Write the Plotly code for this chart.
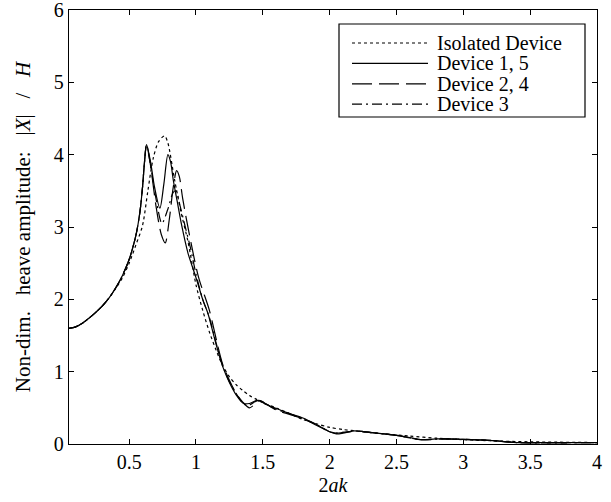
import plotly.graph_objects as go

# Shared low-frequency part (all array devices coincide)
x_rise = [0.05, 0.1, 0.15, 0.2, 0.25, 0.3, 0.35, 0.4, 0.45, 0.5, 0.55, 0.58, 0.6, 0.615]
y_rise = [1.60, 1.62, 1.67, 1.74, 1.82, 1.91, 2.02, 2.16, 2.33, 2.55, 2.88, 3.2, 3.55, 3.9]

# Isolated device
x_iso = [0.05, 0.1, 0.15, 0.2, 0.25, 0.3, 0.35, 0.4, 0.45, 0.5, 0.55, 0.6, 0.64, 0.68, 0.72,
         0.765, 0.79, 0.84, 0.89, 0.94, 0.97, 1.0, 1.05, 1.1, 1.15, 1.2, 1.25, 1.3, 1.35,
         1.4, 1.45, 1.5, 1.6, 1.7, 1.8, 1.9, 2.0, 2.1, 2.2, 2.4, 2.6, 2.8, 3.0, 3.2, 3.5, 4.0]
y_iso = [1.60, 1.62, 1.67, 1.74, 1.82, 1.91, 2.02, 2.15, 2.3, 2.5, 2.75, 3.02, 3.5, 3.95, 4.18,
         4.26, 4.16, 3.65, 3.19, 2.8, 2.5, 2.2, 1.85, 1.55, 1.3, 1.08, 0.93, 0.82, 0.74,
         0.67, 0.62, 0.57, 0.5, 0.42, 0.34, 0.28, 0.23, 0.2, 0.18, 0.14, 0.11, 0.08, 0.06, 0.045, 0.03, 0.02]

# Device 1, 5
x_d15 = x_rise + [0.63, 0.66, 0.69, 0.73, 0.76, 0.79, 0.81, 0.83, 0.86, 0.89, 0.94, 1.0, 1.05,
                  1.09, 1.15, 1.2, 1.25, 1.3, 1.355, 1.4, 1.45, 1.48, 1.52, 1.6, 1.7, 1.8, 1.9,
                  2.0, 2.05, 2.1, 2.18, 2.3, 2.5, 2.6, 2.68, 2.8, 3.0, 3.2, 3.4, 3.6, 4.0]
y_d15 = y_rise + [4.14, 3.9, 3.55, 3.26, 3.6, 4.0, 3.9, 3.65, 3.35, 3.05, 2.64, 2.3, 2.0,
                  1.8, 1.38, 1.07, 0.85, 0.68, 0.56, 0.56, 0.6, 0.6, 0.55, 0.49, 0.42, 0.36, 0.27,
                  0.17, 0.14, 0.15, 0.18, 0.16, 0.12, 0.09, 0.06, 0.07, 0.065, 0.05, 0.02, 0.02, 0.02]

# Device 2, 4
x_d24 = x_rise + [0.63, 0.66, 0.7, 0.74, 0.77, 0.8, 0.83, 0.855, 0.875, 0.9, 0.95, 1.02, 1.1,
                  1.16, 1.2, 1.25, 1.3, 1.35, 1.4, 1.44, 1.48, 1.52, 1.6, 1.7, 1.8, 1.9, 2.0,
                  2.05, 2.1, 2.2, 2.3, 2.5, 2.68, 2.85, 3.0, 3.2, 3.4, 4.0]
y_d24 = y_rise + [4.14, 3.85, 3.3, 2.9, 2.78, 3.1, 3.55, 3.78, 3.7, 3.4, 2.9, 2.3, 1.85,
                  1.38, 1.1, 0.88, 0.7, 0.58, 0.5, 0.55, 0.6, 0.56, 0.47, 0.41, 0.35, 0.26, 0.17,
                  0.15, 0.16, 0.18, 0.16, 0.12, 0.06, 0.07, 0.065, 0.05, 0.02, 0.02]

# Device 3
x_d3 = x_rise + [0.63, 0.66, 0.7, 0.745, 0.79, 0.83, 0.85, 0.88, 0.92, 0.96, 1.0, 1.05, 1.1,
                 1.15, 1.2, 1.25, 1.3, 1.36, 1.4, 1.46, 1.5, 1.6, 1.7, 1.8, 1.9, 2.0, 2.05,
                 2.1, 2.2, 2.3, 2.5, 2.68, 2.85, 3.0, 3.2, 3.4, 4.0]
y_d3 = y_rise + [4.14, 3.85, 3.4, 3.05, 3.25, 3.48, 3.5, 3.3, 3.0, 2.7, 2.35, 2.0, 1.75,
                 1.4, 1.08, 0.86, 0.7, 0.55, 0.54, 0.6, 0.58, 0.48, 0.42, 0.35, 0.27, 0.17, 0.15,
                 0.16, 0.18, 0.16, 0.12, 0.06, 0.07, 0.065, 0.05, 0.02, 0.02]

series_names = ["Isolated Device", "Device 1, 5", "Device 2, 4", "Device 3"]
x_ticks = [0.5, 1, 1.5, 2, 2.5, 3, 3.5, 4]
x_ticklabels = ["0.5", "1", "1.5", "2", "2.5", "3", "3.5", "4"]
y_ticks = [0, 1, 2, 3, 4, 5, 6]

FONT = "Liberation Serif"
LW = 1.2
W, H = 611, 502
ML, MR, MT, MB = 69, 14, 10, 58
PW, PH = W - ML - MR, H - MT - MB

def px_x(p):
    return (p - ML) / PW

def px_y(p):
    return (H - MB - p) / PH

dashes = ["3px,3px", "solid", "20px,7px", "10px,4px,2px,4px"]
data = [(x_iso, y_iso), (x_d15, y_d15), (x_d24, y_d24), (x_d3, y_d3)]

fig = go.Figure()
for name, (xs, ys), dash in zip(series_names, data, dashes):
    fig.add_trace(go.Scatter(
        x=xs, y=ys, mode="lines", name=name, showlegend=False,
        line=dict(color="black", width=LW, dash=dash, shape="spline", smoothing=0.8),
    ))

axis_common = dict(
    showgrid=False, zeroline=False, showline=True, linecolor="black", linewidth=1.3,
    mirror="ticks", ticks="inside", ticklen=5, tickwidth=1, tickcolor="black",
    tickfont=dict(family=FONT, size=20, color="black"), ticklabeloverflow="allow",
    automargin=False,
)
fig.update_xaxes(
    range=[0.05, 4], tickvals=x_ticks, ticktext=x_ticklabels,
    title=dict(text="2<i>ak</i>", font=dict(family=FONT, size=20, color="black"), standoff=5),
    **axis_common,
)
fig.update_yaxes(
    range=[0, 6], tickvals=y_ticks,
    title=dict(text="Non-dim.&nbsp;&nbsp; heave amplitude:&nbsp;&nbsp; |<i>X</i>|&nbsp;&nbsp; /&nbsp;&nbsp; <i>H</i>",
               font=dict(family=FONT, size=21, color="black"), standoff=17),
    **axis_common,
)

# Legend box drawn in paper space (matching the reference's boxed legend)
shapes = [dict(type="rect", xref="paper", yref="paper",
               x0=px_x(339), x1=px_x(585), y0=px_y(117), y1=px_y(24),
               line=dict(color="black", width=1.2), fillcolor="white", layer="above")]
annotations = []
for i, (name, dash) in enumerate(zip(series_names, dashes)):
    yc = 43 + 20.4 * i
    shapes.append(dict(type="line", xref="paper", yref="paper",
                       x0=px_x(352), x1=px_x(428), y0=px_y(yc), y1=px_y(yc),
                       line=dict(color="black", width=LW, dash=dash), layer="above"))
    annotations.append(dict(xref="paper", yref="paper", x=px_x(435), y=px_y(yc),
                            xanchor="left", yanchor="middle", showarrow=False,
                            text=name, font=dict(family=FONT, size=20, color="black")))

fig.update_layout(
    width=W, height=H,
    margin=dict(l=ML, r=MR, t=MT, b=MB, autoexpand=False),
    paper_bgcolor="white", plot_bgcolor="white",
    font=dict(family=FONT, size=20, color="black"),
    showlegend=False,
    shapes=shapes, annotations=annotations,
)
fig.write_html("out.html")
